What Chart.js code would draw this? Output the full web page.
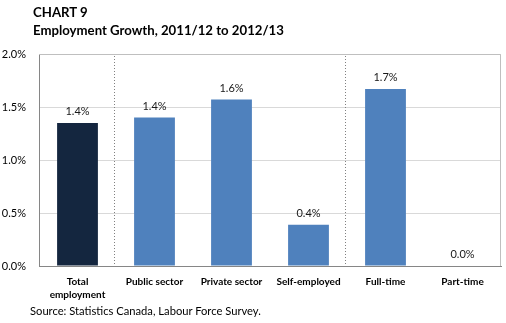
<!DOCTYPE html>
<html>
<head>
<meta charset="utf-8">
<script src="https://cdn.jsdelivr.net/npm/chart.js@4.4.1/dist/chart.umd.min.js"></script>
<style>
  html, body { margin: 0; padding: 0; background: #fff; }
  #wrap { position: relative; width: 506px; height: 323px; font-family: Lato, "Open Sans", sans-serif; }
  #chart { position: absolute; left: 0; top: 0; }
  .title { position: absolute; left: 33px; font-weight: bold; font-size: 13.2px; color: #000; line-height: 16px; }
  .source { position: absolute; left: 30px; top: 304px; font-size: 11.2px; color: #000; }
</style>
</head>
<body>
<div id="wrap">
  <canvas id="chart" width="506" height="323"></canvas>
  <div class="title" style="top:4px">CHART 9</div>
  <div class="title" style="top:22px">Employment Growth, 2011/12 to 2012/13</div>
  <div class="source">Source: Statistics Canada, Labour Force Survey.</div>
</div>
<script>
// categories and values (percent growth)
const categories = [['Total', 'employment'], 'Public sector', 'Private sector', 'Self-employed', 'Full-time', 'Part-time'];
const growth = [1.35, 1.40, 1.57, 0.39, 1.67, 0.0];
const valueLabels = ['1.4%', '1.4%', '1.6%', '0.4%', '1.7%', '0.0%'];
const barColors = ['#14263f', '#4f81bd', '#4f81bd', '#4f81bd', '#4f81bd', '#4f81bd'];
const yTicks = [0, 0.5, 1.0, 1.5, 2.0];
// dotted separators sit after these category indexes
const separatorsAfter = [0, 3];

const FONT = "Lato, 'Open Sans', sans-serif";

// value labels above bars, separators, plot frame
const extras = {
  id: 'extras',
  afterDatasetsDraw(chart) {
    const { ctx, chartArea: a, scales: { x } } = chart;
    ctx.save();

    // frame top + right
    ctx.strokeStyle = '#bfbfbf';
    ctx.lineWidth = 1;
    ctx.beginPath();
    ctx.moveTo(a.left, a.top + 0.5);
    ctx.lineTo(a.right - 0.5, a.top + 0.5);
    ctx.lineTo(a.right - 0.5, a.bottom);
    ctx.stroke();

    // dotted group separators
    ctx.strokeStyle = '#808080';
    ctx.setLineDash([1, 2]);
    separatorsAfter.forEach(i => {
      const px = Math.round((x.getPixelForValue(i) + x.getPixelForValue(i + 1)) / 2) - 1.5;
      ctx.beginPath();
      ctx.moveTo(px, a.top + 2);
      ctx.lineTo(px, a.bottom);
      ctx.stroke();
    });
    ctx.setLineDash([]);

    // data labels
    ctx.fillStyle = '#1a1a1a';
    ctx.font = '11px ' + FONT;
    ctx.textAlign = 'center';
    ctx.textBaseline = 'bottom';
    chart.getDatasetMeta(0).data.forEach((bar, i) => {
      ctx.fillText(valueLabels[i], bar.x, bar.y - 6);
    });
    ctx.restore();
  }
};

new Chart(document.getElementById('chart'), {
  type: 'bar',
  data: {
    labels: categories,
    datasets: [{
      data: growth,
      backgroundColor: barColors,
      categoryPercentage: 1,
      barPercentage: 0.53
    }]
  },
  options: {
    responsive: false,
    animation: false,
    events: [],
    layout: { padding: { top: 54, right: 5, bottom: 17, left: 0 } },
    plugins: { legend: { display: false }, tooltip: { enabled: false } },
    scales: {
      x: {
        grid: { display: false, drawTicks: false },
        border: { color: '#868686' },
        ticks: {
          color: '#000',
          font: { family: FONT, size: 10, weight: 'bold', lineHeight: 1.3 },
          padding: 9,
          maxRotation: 0,
          autoSkip: false
        },
        afterFit: s => { s.height = 40; }
      },
      y: {
        min: 0,
        max: 2.0,
        afterBuildTicks: s => { s.ticks = yTicks.map(v => ({ value: v })); },
        grid: { color: '#d9d9d9', drawTicks: false },
        border: { color: '#868686' },
        ticks: {
          color: '#000',
          font: { family: FONT, size: 11 },
          padding: 13,
          callback: v => v.toFixed(1) + '%'
        },
        afterFit: s => { s.width = 39; }
      }
    }
  },
  plugins: [extras]
});
</script>
</body>
</html>
